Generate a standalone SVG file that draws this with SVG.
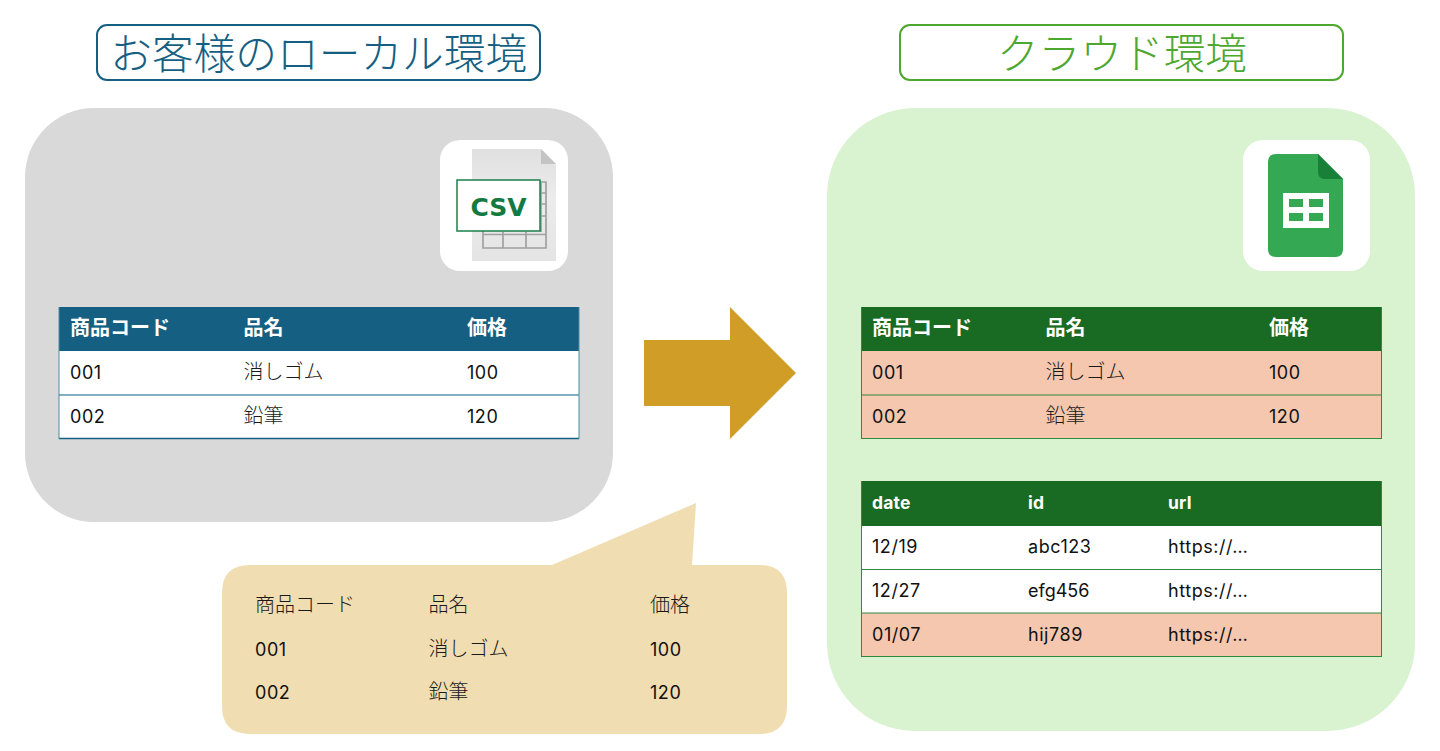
<svg xmlns="http://www.w3.org/2000/svg" width="1440" height="751" viewBox="0 0 1440 751">
<defs><linearGradient id="page" x1="0" y1="0" x2="0" y2="1"><stop offset="0" stop-color="#e0e0e0"/><stop offset="0.45" stop-color="#ececec"/><stop offset="1" stop-color="#e4e4e4"/></linearGradient></defs>
<style>
text{font-family:"Noto Sans CJK JP","Noto Sans",sans-serif}
.t{font-size:20px;fill:#1a1a1a;font-weight:300}
.n{font-size:18px;fill:#111;font-family:"Inter","Noto Sans CJK JP",sans-serif;font-weight:400;letter-spacing:.55px}
.h{font-size:20px;fill:#fff;font-weight:700}
.he{font-size:17.5px;fill:#fff;font-weight:700;font-family:"Inter",sans-serif;letter-spacing:.2px}
.title{font-size:41.7px;font-weight:300}
.line-b{stroke:#5b93ae;stroke-width:1.5}
.line-g{stroke:#2f8a3e;stroke-width:1}
</style>
<rect width="1440" height="751" fill="#fff"/>
<g id="title-local"><rect x="97" y="25" width="443" height="55" rx="10" fill="#fff" stroke="#156082" stroke-width="2"/><text class="title" x="110.300" y="69" fill="#156082">お客様のローカル環境</text></g>
<g id="title-cloud"><rect x="900" y="25" width="443" height="55" rx="10" fill="#fff" stroke="#4ea72e" stroke-width="2"/><text class="title" x="1122" y="69" fill="#4ea72e" text-anchor="middle">クラウド環境</text></g>
<g id="local-panel"><rect x="25" y="108" width="588" height="414" rx="69" fill="#d9d9d9"/></g>
<g id="cloud-panel"><rect x="827" y="108" width="588" height="623" rx="88" fill="#d9f2d0"/></g>
<g id="csv-icon">
<rect x="440" y="140" width="128" height="131" rx="20" fill="#fff"/>
<path d="M472 149H541L556 164V261H472Z" fill="url(#page)"/>
<path d="M541 149L556 164H541Z" fill="#c4c4c4"/>
<path d="M483 182H546V248H483ZM483 234.500H546M503 232V248M526 232V248M541 182V232M541 193H546M541 204H546M541 216H546" fill="none" stroke="#a0a0a0" stroke-width="1.700"/>
<rect x="457" y="180" width="83" height="51" fill="#fff" stroke="#1a7f4b" stroke-width="1.500"/>
<text x="498.500" y="216" text-anchor="middle" font-size="25" font-weight="700" fill="#127a42" style="font-family:'DejaVu Sans',sans-serif">CSV</text>
</g>
<g id="sheets-icon">
<rect x="1243" y="140" width="127" height="131" rx="20" fill="#fff"/>
<path d="M1276 154H1318L1343 179V249Q1343 257 1335 257H1276Q1268 257 1268 249V162Q1268 154 1276 154Z" fill="#34a853"/>
<path d="M1318 154L1343 179H1325Q1318 179 1318 172Z" fill="#188038"/>
<rect x="1283" y="193" width="46" height="35" fill="#fff"/>
<path d="M1289 199H1303V207H1289ZM1309 199H1323V207H1309ZM1289 213H1303V221H1289ZM1309 213H1323V221H1309Z" fill="#34a853"/>
</g>
<g id="local-table">
<rect x="59" y="307" width="520" height="44" fill="#156082"/>
<rect x="59" y="351" width="520" height="88" fill="#fff"/>
<path class="line-b" d="M59 395H579"/>
<path d="M59 438.500H579" stroke="#156082" stroke-width="1.300"/>
<path d="M59 307V439M579 307V439" stroke="#4d8aa5" stroke-width="1"/>
<text class="h" x="70" y="335">商品コード</text><text class="h" x="243.500" y="335">品名</text><text class="h" x="467" y="335">価格</text>
<text class="n" x="70" y="379">001</text><text class="t" x="243.500" y="379">消しゴム</text><text class="n" x="467" y="379">100</text>
<text class="n" x="70" y="423">002</text><text class="t" x="243.500" y="423">鉛筆</text><text class="n" x="467" y="423">120</text>
</g>
<g id="cloud-table-1">
<rect x="862" y="307" width="520" height="44" fill="#196b24"/>
<rect x="862" y="351" width="520" height="88" fill="#f5c7ae"/>
<path class="line-g" d="M862 395H1382M862 438.500H1382M861.500 307V439M1381.500 307V439"/>
<text class="h" x="872" y="335">商品コード</text><text class="h" x="1045.500" y="335">品名</text><text class="h" x="1269" y="335">価格</text>
<text class="n" x="872" y="379">001</text><text class="t" x="1045.500" y="379">消しゴム</text><text class="n" x="1269" y="379">100</text>
<text class="n" x="872" y="423">002</text><text class="t" x="1045.500" y="423">鉛筆</text><text class="n" x="1269" y="423">120</text>
</g>
<g id="cloud-table-2">
<rect x="862" y="481" width="520" height="45" fill="#196b24"/>
<rect x="862" y="526" width="520" height="87" fill="#fff"/>
<rect x="862" y="613" width="520" height="44" fill="#f5c7ae"/>
<path class="line-g" d="M862 569.500H1382M862 613H1382M862 656.500H1382M861.500 481V657M1381.500 481V657"/>
<text class="he" x="872" y="509">date</text><text class="he" x="1028" y="509">id</text><text class="he" x="1168" y="509">url</text>
<text class="n" x="872" y="553">12/19</text><text class="n" x="1028" y="553">abc123</text><text class="n" x="1168" y="553">https://…</text>
<text class="n" x="872" y="597">12/27</text><text class="n" x="1028" y="597" style="letter-spacing:0">efg456</text><text class="n" x="1168" y="597">https://…</text>
<text class="n" x="872" y="641">01/07</text><text class="n" x="1028" y="641">hij789</text><text class="n" x="1168" y="641">https://…</text>
</g>
<g id="arrow"><path d="M644 340H730V307L796 373L730 439V406H644Z" fill="#d09e27"/></g>
<g id="callout">
<path d="M250 565H552L696 503L692 565H759Q787 565 787 593V706Q787 734 759 734H250Q222 734 222 706V593Q222 565 250 565Z" fill="#f0ddb1"/>
<text class="t" x="255" y="611.500">商品コード</text><text class="t" x="428.500" y="611.500">品名</text><text class="t" x="650" y="611.500">価格</text>
<text class="n" x="255" y="656">001</text><text class="t" x="428.500" y="655.500">消しゴム</text><text class="n" x="650" y="656">100</text>
<text class="n" x="255" y="699">002</text><text class="t" x="428.500" y="699">鉛筆</text><text class="n" x="650" y="699">120</text>
</g>
</svg>
